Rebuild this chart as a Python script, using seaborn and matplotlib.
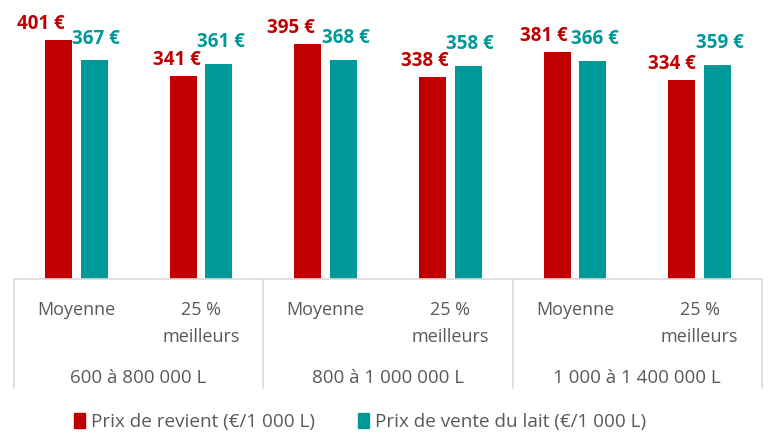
import matplotlib
matplotlib.use("Agg")
import matplotlib.pyplot as plt
import matplotlib.transforms as mtransforms
from matplotlib.patches import Patch
import seaborn as sns
import pandas as pd

# data
groups = ["600 à 800 000 L", "800 à 1 000 000 L", "1 000 à 1 400 000 L"]
subcats = ["Moyenne", "25 %\nmeilleurs"]
series = ["Prix de revient (€/1 000 L)", "Prix de vente du lait (€/1 000 L)"]
prix_revient = [401, 341, 395, 338, 381, 334]
prix_vente = [367, 361, 368, 358, 366, 359]

RED = "#C00000"
TEAL = "#009999"
GREY = "#595959"
LINE = "#D9D9D9"

keys = [f"{g}|{s}" for g in groups for s in subcats]
df = pd.DataFrame({
    "cat": keys * 2,
    "serie": [series[0]] * 6 + [series[1]] * 6,
    "val": prix_revient + prix_vente,
})

sns.set_style("white")
plt.rcParams["font.family"] = ["Open Sans", "DejaVu Sans"]

fig = plt.figure(figsize=(7.73, 4.33), dpi=100)
ax = fig.add_axes([14 / 773, 154 / 433, 748 / 773, 279 / 433])

sns.barplot(data=df, x="cat", y="val", hue="serie", order=keys,
            hue_order=series, palette=[RED, TEAL], saturation=1,
            width=0.575, gap=0.25, linewidth=0, legend=False, ax=ax)

ax.set_ylim(0, 468)
ax.set_xlim(-0.5, 5.5)
ax.set_xlabel("")
ax.set_ylabel("")
ax.set_xticks([])
ax.set_yticks([])
for s in ["left", "right", "top"]:
    ax.spines[s].set_visible(False)
ax.spines["bottom"].set_color(LINE)
ax.spines["bottom"].set_linewidth(1.2)

# value labels (offsets in px)
px = 72 / 100
red_dx = [-18, -6, -17, -8, -13, -10]
for cont, color, dy, dxs in zip(ax.containers, [RED, TEAL], [11, 16.5],
                                [red_dx, [2] * 6]):
    for bar, dx in zip(cont, dxs):
        h = bar.get_height()
        ax.annotate(f"{h:.0f} €", (bar.get_x() + bar.get_width() / 2, h),
                    xytext=(dx * px, dy * px), textcoords="offset points",
                    ha="center", va="baseline", color=color,
                    fontsize=13.5, fontweight="bold")

# category table under the axis
trans = mtransforms.blended_transform_factory(ax.transData, ax.transAxes)
for i, k in enumerate(keys):
    sub = k.split("|")[1]
    ax.annotate(sub, (i, 0), xycoords=trans, xytext=(0, -22 * px),
                textcoords="offset points", ha="center", va="top",
                color=GREY, fontsize=13, linespacing=1.65)
for j, g in enumerate(groups):
    ax.annotate(g, (2 * j + 0.5, 0), xycoords=trans, xytext=(0, -104 * px),
                textcoords="offset points", ha="center", va="baseline",
                color=GREY, fontsize=13.5)
for xb in [-0.5, 1.5, 3.5, 5.5]:
    ax.plot([xb, xb], [0, -109 / 279], transform=trans, color=LINE,
            lw=1.2, clip_on=False)

handles = [Patch(color=RED, label=series[0]), Patch(color=TEAL, label=series[1])]
leg = fig.legend(handles=handles, loc="center", bbox_to_anchor=(360 / 773, 11 / 433),
                 ncol=2, frameon=False, fontsize=13.6, handlelength=0.6,
                 handleheight=0.8, handletextpad=0.3, columnspacing=2.3)
for t in leg.get_texts():
    t.set_color(GREY)

fig.savefig("out.png", dpi=100)
